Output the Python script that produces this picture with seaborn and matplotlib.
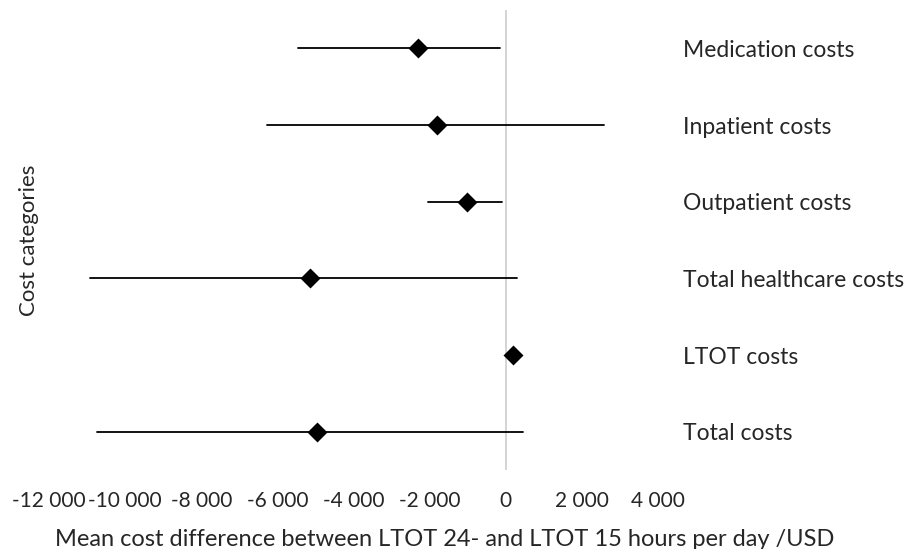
import numpy as np
import pandas as pd
import seaborn as sns
import matplotlib
matplotlib.use("Agg")
import matplotlib.pyplot as plt
from matplotlib import ticker

# Données (USD)
categories = ["Medication costs", "Inpatient costs", "Outpatient costs",
              "Total healthcare costs", "LTOT costs", "Total costs"]
mean_diff = [-2300, -1800, -1030, -5130, 180, -4970]
ci_low = [-5470, -6260, -2030, -10920, 100, -10740]
ci_high = [-160, 2580, -100, 290, 260, 450]
x_ticks = [-12000, -10000, -8000, -6000, -4000, -2000, 0, 2000, 4000]

# Table longue : bas / estimation / haut -> médiane = estimation, pi 100 = IC
rows = []
for cat, m, lo, hi in zip(categories, mean_diff, ci_low, ci_high):
    for v in (lo, m, hi):
        rows.append({"category": cat, "value": v})
df = pd.DataFrame(rows)

sns.set_style("white")
plt.rcParams["axes.unicode_minus"] = False
plt.rcParams["font.family"] = ["Lato", "DejaVu Sans"]

fig = plt.figure(figsize=(9.05, 5.49), dpi=100)
ax = fig.add_axes([49 / 905, 79 / 549, 609 / 905, 460 / 549])

ax.axvline(0, color="#d4d4d4", lw=1.4, zorder=0)
sns.pointplot(data=df, x="value", y="category", order=categories,
              estimator="median", errorbar=("pi", 100),
              color="black", markers="D", markersize=8.5,
              linestyle="none", err_kws={"linewidth": 1.3}, ax=ax)

ax.set_xlim(-12000, 4000)
ax.set_ylim(5.5, -0.5)
ax.set_xticks(x_ticks)
ax.xaxis.set_major_formatter(
    ticker.FuncFormatter(lambda v, _: f"{v:,.0f}".replace(",", " ")))
ax.tick_params(axis="x", length=0, pad=15, labelsize=15)

ax.yaxis.tick_right()
ax.tick_params(axis="y", length=0, pad=18, labelsize=16.5)
for lab in ax.get_yticklabels():
    lab.set_horizontalalignment("left")

sns.despine(ax=ax, left=True, bottom=True, right=True, top=True)

ax.set_xlabel("Mean cost difference between LTOT 24- and LTOT 15 hours per day /USD",
              fontsize=17)
ax.xaxis.set_label_coords((445 - 49) / 609, -0.128)
ax.set_ylabel("Cost categories", fontsize=16)
ax.yaxis.set_label_position("left")
ax.yaxis.set_label_coords(-0.016, 0.5)

fig.savefig("out.png", dpi=100)
